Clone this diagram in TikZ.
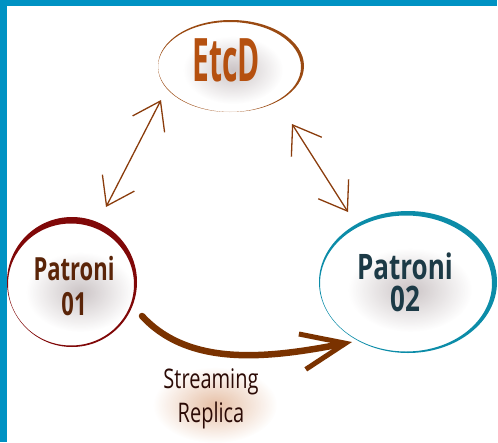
\documentclass[tikz,border=0pt]{standalone}
\usepackage{fontspec}
\setmainfont{Open Sans}
\usetikzlibrary{arrows.meta,shapes.geometric,calc,fadings}
\definecolor{frameblue}{HTML}{0092C3}
\definecolor{etcdring}{HTML}{9A4A12}
\definecolor{etcdtext}{HTML}{B5500F}
\definecolor{ponering}{HTML}{800808}
\definecolor{ponetext}{HTML}{5A2408}
\definecolor{ptworing}{HTML}{0C8CA8}
\definecolor{ptwotext}{HTML}{1C3A46}
\definecolor{arrowc}{HTML}{8A3C0C}
\definecolor{bigc}{HTML}{7A3200}
\definecolor{repltext}{HTML}{2B0A05}
\definecolor{replshadow}{HTML}{C8733A}
\definecolor{shadowgray}{HTML}{6E5A5E}
\tikzfading[name=softglow, inner color=transparent!35, outer color=transparent!100]
\begin{document}
\begin{tikzpicture}[x=1pt,y=-1pt,
  ring/.style={ellipse, inner sep=0pt, align=center},
  softshadow/.style={fill=shadowgray, opacity=0.55, path fading=softglow},
  dbl/.style={draw=arrowc, line width=1.3pt, line cap=round,
    {Straight Barb[length=26pt,width=36pt]}-{Straight Barb[length=26pt,width=36pt]}},
  bigarrow/.style={draw=bigc, line width=6.5pt, line cap=round,
    -{Straight Barb[length=44pt,width=36pt,line width=5pt]}}]
\useasboundingbox (0,0) rectangle (498,442);
% frame
\fill[frameblue] (0,0) rectangle (7,442);
\fill[frameblue] (0,0) rectangle (497,6);
% rings (hand-drawn crescents)
\fill[etcdring, even odd rule] (231,66) ellipse [x radius=73pt, y radius=46pt]
  (229.5,67) ellipse [x radius=71.5pt, y radius=45pt];
\fill[ponering, even odd rule] (72,282) ellipse [x radius=65pt, y radius=65pt]
  (71,284.5) ellipse [x radius=63pt, y radius=61pt];
\fill[ptworing, even odd rule] (408,282) ellipse [x radius=89pt, y radius=71pt]
  (406,283.5) ellipse [x radius=86pt, y radius=68pt];
% soft text shadows
\fill[softshadow] (233,70) ellipse [x radius=50pt, y radius=34pt];
\fill[softshadow] (80,292) ellipse [x radius=54pt, y radius=40pt];
\fill[softshadow] (410,290) ellipse [x radius=62pt, y radius=42pt];
\fill[softshadow, fill=replshadow, opacity=0.7] (215,405) ellipse [x radius=62pt, y radius=38pt];
% nodes
\node[ring, text=etcdtext, minimum width=146pt, minimum height=92pt,
  font=\fontsize{30}{30}\selectfont\bfseries] (etcd) at (226,60) {\scalebox{1}[2.0]{EtcD}};
\node[ring, text=ponetext, minimum width=130pt, minimum height=130pt,
  font=\fontsize{22}{22}\selectfont\bfseries] (p1) at (74,286)
  {\scalebox{1}[1.45]{Patroni}\\[10pt]\scalebox{1}[1.45]{01}};
\node[ring, text=ptwotext, minimum width=178pt, minimum height=142pt,
  font=\fontsize{26}{26}\selectfont\bfseries] (p2) at (405,282)
  {\scalebox{1}[1.35]{Patroni}\\[6pt]\scalebox{1}[1.35]{02}};
\node[inner sep=0pt, align=center, text=repltext,
  font=\fontsize{20}{20}\selectfont] (repl) at (211,399)
  {\scalebox{1}[1.35]{Streaming}\\[6pt]\scalebox{1}[1.35]{Replica}};
% connector end points
\coordinate (la) at (161,100);
\coordinate (lb) at (106,207);
\coordinate (ra) at (292,124);
\coordinate (rb) at (348,212);
\coordinate (sa) at (142,316);
\coordinate (sb) at (352,342);
% connectors
\draw[dbl] (la) -- (lb);
\draw[dbl] (ra) -- (rb);
\draw[bigarrow] (sa) .. controls (190,368) and (270,358) .. (sb);
\end{tikzpicture}
\end{document}
